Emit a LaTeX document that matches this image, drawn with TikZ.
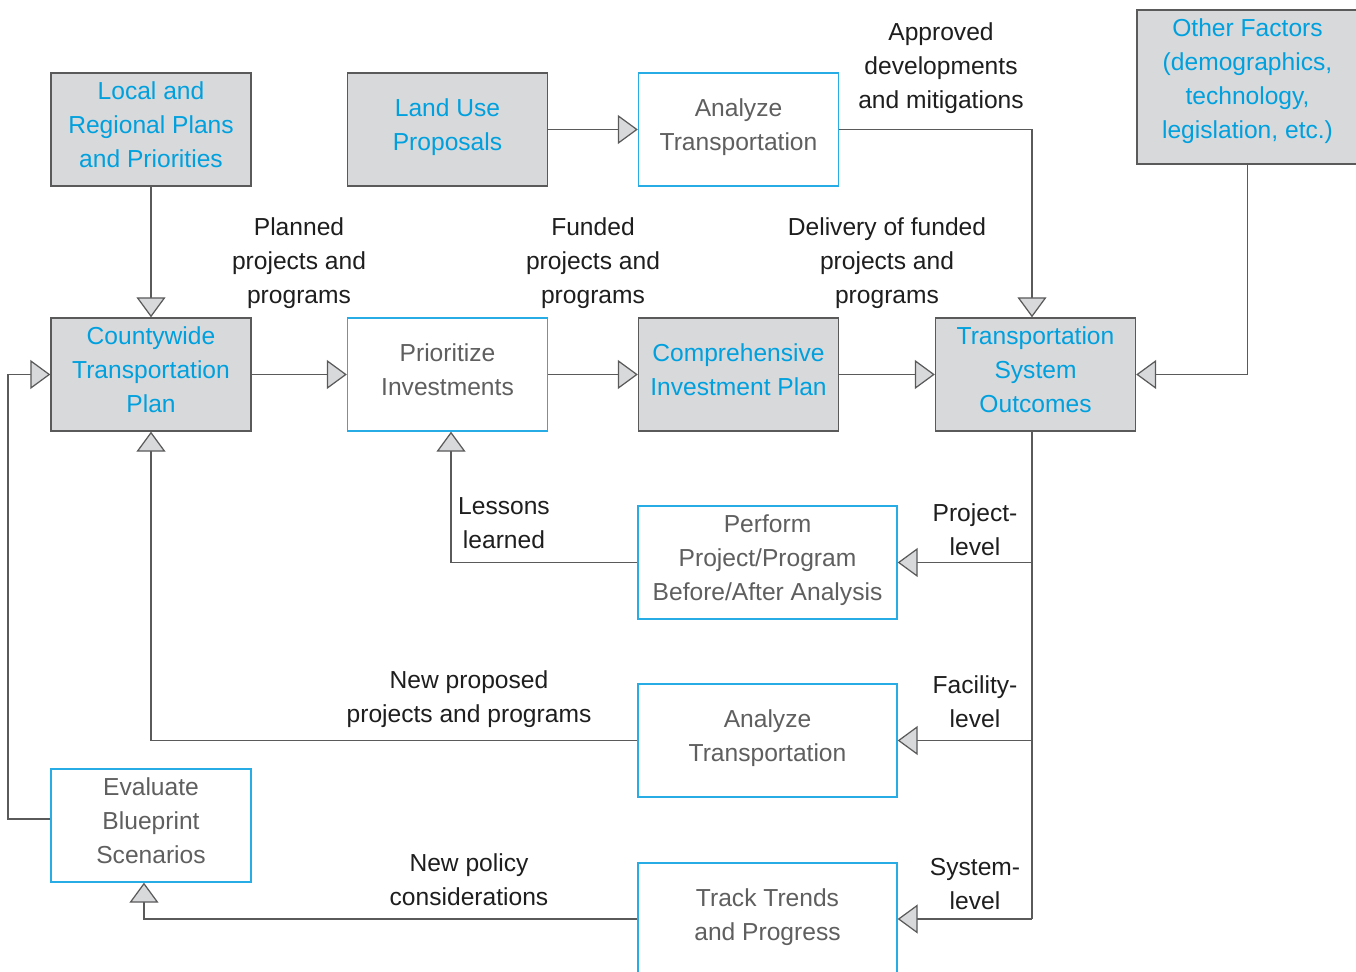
\documentclass[tikz,border=0pt]{standalone}
\usepackage{fontspec}
\setmainfont{Liberation Sans}
\usetikzlibrary{arrows.meta,positioning}
\definecolor{txtblue}{RGB}{0,160,222}
\definecolor{edgeblue}{RGB}{40,172,230}
\definecolor{boxgray}{RGB}{216,217,219}
\definecolor{linegray}{RGB}{90,90,90}
\definecolor{txtgray}{RGB}{95,95,95}
\definecolor{txtdark}{RGB}{30,30,30}

\begin{document}
\begin{tikzpicture}[x=0.02cm,y=-0.02cm,
    every node/.style={font=\fontsize{14}{19.3}\selectfont,align=center},
    graybox/.style={rectangle,draw=linegray,fill=boxgray,line width=0.8pt,text=txtblue,minimum width=4cm,minimum height=2.26cm,inner sep=0pt,text depth=5.5pt},
    whitebox/.style={rectangle,draw=edgeblue,fill=white,line width=0.8pt,text=txtgray,minimum width=4cm,minimum height=2.26cm,inner sep=0pt,text depth=5.5pt},
    lbl/.style={text=txtdark,text depth=3pt},
    wire/.style={draw=linegray,line width=0.7pt},
    flow/.style={wire,-{Triangle[length=0.4cm,width=0.58cm,fill=boxgray]}}]

    \fill[white] (0,0) rectangle (1356,972);
    \useasboundingbox (0,0) rectangle (1356,972);

    % Boxes
    \node[graybox] (plans) at (151,129.5) {Local and\\Regional Plans\\and Priorities};
    \node[graybox] (landuse) at (447.5,129.5) {Land Use\\Proposals};
    \node[whitebox] (anatop) at (738.5,129.5) {Analyze\\Transportation};
    \node[graybox,minimum width=4.42cm,minimum height=3.08cm,text depth=9.5pt] (other) at (1247.5,87) {Other Factors\\(demographics,\\technology,\\legislation, etc.)};
    \node[graybox] (ctp) at (151,374.5) {Countywide\\Transportation\\Plan};
    \node[whitebox] (prio) at (447.5,374.5) {Prioritize\\Investments};
    \node[graybox] (cip) at (738.5,374.5) {Comprehensive\\Investment Plan};
    \node[graybox] (tso) at (1035.5,374.5) {Transportation\\System\\Outcomes};
    \node[whitebox,minimum width=5.18cm] (perform) at (767.5,562.5) {Perform\\Project/Program\\Before/After Analysis};
    \node[whitebox,minimum width=5.18cm] (anafac) at (767.5,740.5) {Analyze\\Transportation};
    \node[whitebox] (blueprint) at (151,825.5) {Evaluate\\Blueprint\\Scenarios};
    \node[whitebox,minimum width=5.18cm,minimum height=2.24cm] (trends) at (767.5,919) {Track Trends\\and Progress};

    % Forward flow
    \coordinate (tsotop) at ([xshift=-2pt]tso.north);
    \coordinate (tsobot) at ([xshift=-2pt]tso.south);
    \draw[flow] (plans) -- (ctp);
    \draw[flow] (landuse) -- (anatop);
    \draw[flow] (anatop.east) -| (tsotop);
    \draw[flow] (other.south) |- (tso.east);
    \draw[flow] (ctp) -- (prio);
    \draw[flow] (prio) -- (cip);
    \draw[flow] (cip) -- (tso);

    % Feedback loops
    \coordinate (projtap) at (tsobot |- perform.east);
    \coordinate (factap) at (tsobot |- anafac.east);
    \coordinate (systap) at (tsobot |- trends.east);
    \coordinate (loopx) at (8,374.5);
    \draw[wire] (tsobot) -- (systap);
    \draw[flow] (projtap) -- (perform.east);
    \draw[flow] (factap) -- (anafac.east);
    \draw[flow] (systap) -- (trends.east);
    \draw[flow] (perform.west) -| ([xshift=2pt]prio.south);
    \draw[flow] (anafac.west) -| (ctp.south);
    \draw[flow] (trends.west) -| ([xshift=-4pt]blueprint.south);
    \draw[flow] ([yshift=3.7pt]blueprint.west) -| (loopx) -- (ctp.west);

    % Labels
    \node[lbl] (approved) at (941,68) {Approved\\developments\\and mitigations};
    \node[lbl] (planned) at (299,263) {Planned\\projects and\\programs};
    \node[lbl] (funded) at (593,263) {Funded\\projects and\\programs};
    \node[lbl] (delivery) at (887,263) {Delivery of funded\\projects and\\programs};
    \node[lbl] (lessons) at (504,526) {Lessons\\learned};
    \node[lbl] (projlvl) at (975,532) {Project-\\level};
    \node[lbl] (faclvl) at (975,704) {Facility-\\level};
    \node[lbl] (syslvl) at (975,887) {System-\\level};
    \node[lbl] (newproj) at (469,699) {New proposed\\projects and programs};
    \node[lbl] (newpol) at (469,882) {New policy\\considerations};
\end{tikzpicture}
\end{document}
